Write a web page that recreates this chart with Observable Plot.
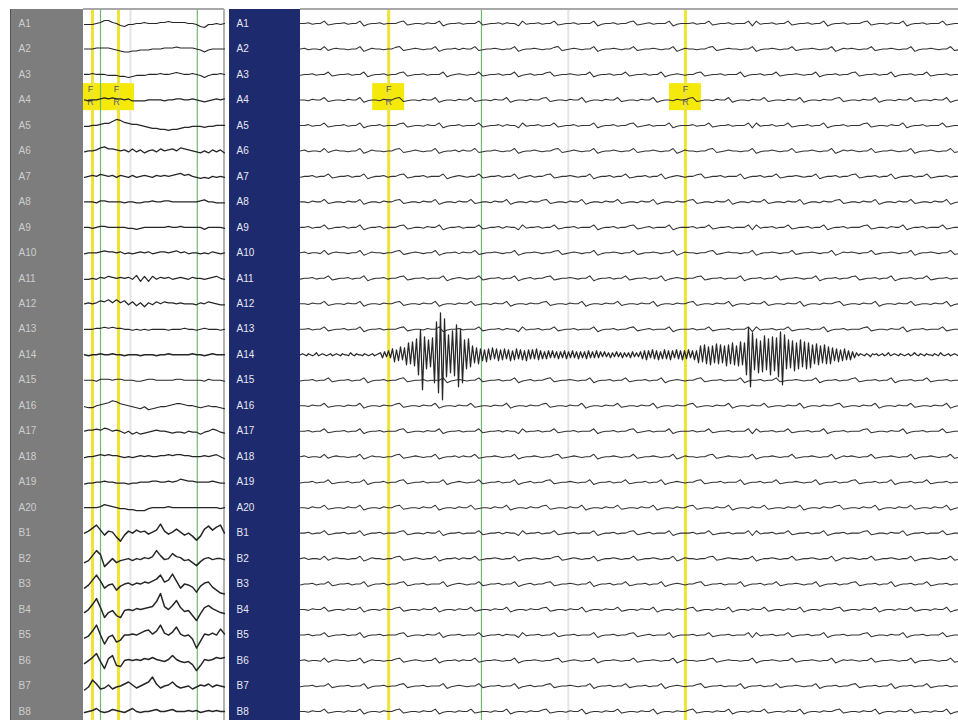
<!DOCTYPE html>
<html><head><meta charset="utf-8">
<script src="https://cdn.jsdelivr.net/npm/d3@7"></script>
<script src="https://cdn.jsdelivr.net/npm/@observablehq/plot@0.6"></script>
<style>
body{margin:0;background:#fff;}
#wrap{position:relative;width:958px;height:720px;overflow:hidden;background:#fff;font-family:"Liberation Sans",Arial,sans-serif;}
.abs{position:absolute;}
</style></head><body>
<div id="wrap">
 <div class="abs" style="left:10px;top:9px;width:1px;height:711px;background:#555"></div>
 <div class="abs" style="left:11px;top:9px;width:72px;height:711px;background:#7d7d7d"></div>
 <div class="abs" style="left:83px;top:8px;width:141px;height:2px;background:#a8a8a8"></div>
 <div class="abs" style="left:223px;top:9px;width:2px;height:711px;background:#b4b4b4"></div>
 <div class="abs" style="left:229px;top:9px;width:71px;height:711px;background:#1e2a6e"></div>
 <div class="abs" style="left:300px;top:8px;width:658px;height:2px;background:#a8a8a8"></div>
 <div id="left" class="abs" style="left:11px;top:0"></div>
 <div id="right" class="abs" style="left:229px;top:0"></div>
</div>
<script>
// channel labels
const channels = ["A1","A2","A3","A4","A5","A6","A7","A8","A9","A10","A11","A12","A13","A14","A15","A16","A17","A18","A19","A20","B1","B2","B3","B4","B5","B6","B7","B8"];

// left (compressed) panel: 36 samples per channel, offsets (px-like units, up positive)
const L_A1 = [-1,-1,-1,0,1,3,3,1,0,-2,-3,-1,-1,0,0,1,0,0,0,1,1,2,1,1,1,1,0,0,-1,-3,-4,-1,-1,0,-1,0];
const L_A2 = [0,0,0,1,1,1,1,0,-1,-2,-3,-3,-2,-2,-1,-1,-1,0,0,0,1,1,1,2,1,1,1,1,0,-1,-3,-1,0,0,0,0];
const L_A3 = [0,0,1,0,0,0,-1,-1,-1,-2,-2,-3,-2,-1,-1,-1,0,0,0,1,0,0,1,2,1,0,0,1,0,-1,-3,-1,0,0,1,0];
const L_A4 = [0,-1,0,0,1,2,1,2,1,1,0,1,-1,-1,-1,-1,0,0,0,0,-1,0,0,1,1,0,0,1,0,-1,-2,-1,0,1,0,1];
const L_A5 = [-1,-1,0,0,1,2,2,4,6,5,3,2,1,1,0,-1,-2,-3,-3,-4,-4,-5,-4,-4,-3,-2,-2,-1,-1,-1,-2,-1,-1,0,0,0];
const L_A6 = [-1,0,0,1,3,4,2,2,1,0,1,-1,2,-1,1,-2,0,1,-1,2,0,1,2,0,3,2,1,0,-1,-2,0,-2,1,-1,1,-2];
const L_A7 = [-1,0,1,0,2,1,0,1,-1,1,0,-1,1,-1,0,1,0,-1,1,0,1,0,1,2,3,1,2,0,-1,-2,-1,-2,0,-1,0,-1];
const L_A8 = [0,0,0,-1,1,1,0,0,0,0,-1,0,0,-1,-1,0,0,1,0,0,1,1,0,0,0,0,0,0,0,1,2,0,0,-1,-1,-1];
const L_A9 = [0,0,-1,0,1,1,0,0,0,0,0,-1,-1,-2,-1,0,0,0,0,0,0,1,0,0,1,0,0,0,0,0,-2,0,0,0,0,-1];
const L_A10 = [-1,0,0,0,1,2,1,1,0,1,-1,0,-1,0,1,0,1,-1,0,1,1,0,1,2,0,1,-1,0,0,-1,0,-1,1,0,-1,0];
const L_A11 = [-1,-1,0,-1,1,0,2,1,0,1,0,1,-1,3,-3,2,-3,2,-1,1,0,1,-1,0,1,0,-1,1,0,0,-1,0,1,2,0,-1];
const L_A12 = [0,1,0,1,3,2,4,1,4,1,3,-1,2,-2,1,-3,1,-1,2,0,2,1,1,0,1,0,0,0,-1,1,0,2,1,0,-1,-1];
const L_A13 = [0,0,0,1,1,2,1,2,1,1,0,0,-1,0,-1,0,-1,0,0,0,0,-1,0,0,0,1,0,0,-1,0,1,0,0,0,-1,0];
const L_A14 = [0,-1,0,0,1,0,0,1,0,0,-1,0,0,0,-1,0,0,0,-1,0,0,1,0,0,0,0,0,1,0,0,-1,0,1,0,0,0];
const L_A15 = [0,0,0,-1,1,1,1,0,1,1,0,0,0,-1,-1,0,1,1,0,0,0,0,0,1,1,0,0,0,0,0,-1,1,0,0,0,-1];
const L_A16 = [-1,-2,-2,0,1,2,3,5,4,2,1,0,-1,-2,-3,-1,-4,-3,-2,-1,-1,0,1,2,2,1,0,0,-1,-2,-1,0,-1,-1,-2,-3];
const L_A17 = [0,1,1,2,1,3,2,0,1,0,-2,0,-3,-1,-3,-2,-1,0,1,0,0,-1,-2,-1,-1,-2,0,-1,-1,-3,-1,0,2,1,-1,-2];
const L_A18 = [-1,0,0,1,2,1,2,1,1,0,-1,0,-1,0,1,0,1,0,0,1,1,2,1,2,2,1,1,0,0,0,1,0,1,2,0,-2];
const L_A19 = [-2,-1,-1,0,0,1,0,0,-1,-1,-1,-2,-1,-1,0,0,0,1,1,0,0,1,0,1,3,2,1,1,0,0,0,0,1,0,-1,-1];
const L_A20 = [0,0,0,0,1,3,2,1,0,-1,-1,-2,-2,-3,-3,-3,-1,0,0,0,0,1,0,0,0,0,0,0,0,0,0,0,0,0,-1,0];
const L_B1 = [0,2,5,8,3,-2,2,1,-4,-8,-2,2,0,3,1,2,-1,1,3,9,2,-1,1,4,1,-2,0,-3,-7,-3,4,7,3,6,8,0];
const L_B2 = [-4,-2,3,8,4,-8,-4,0,-4,-2,-1,0,-2,0,-1,1,0,2,8,3,-1,0,5,2,1,-2,-1,-4,-7,-3,0,1,-1,0,0,-1];
const L_B3 = [-4,-1,4,9,3,-4,-1,0,-6,-2,0,1,-1,1,0,2,1,3,5,9,2,4,10,3,-4,0,-1,-3,-8,-2,1,2,-3,-6,-9,-10];
const L_B4 = [-3,0,5,11,2,-8,-3,-1,-6,-8,-1,0,-1,1,0,1,2,3,8,16,3,0,4,9,2,-2,-1,-6,-11,-4,2,4,1,-1,-3,-4];
const L_B5 = [-3,-1,4,10,0,-9,-2,0,-7,-5,0,0,1,0,2,4,5,1,4,10,2,0,3,8,1,-1,0,-4,-13,-6,1,0,2,0,6,1];
const L_B6 = [-3,0,3,7,-1,-8,2,5,-5,-6,0,1,0,1,0,2,1,3,1,0,-1,1,5,1,-1,-2,-1,-4,-10,-5,1,0,1,3,2,3];
const L_B7 = [-4,-1,6,2,-3,-2,1,-3,-1,0,2,4,1,-2,0,2,4,9,2,-2,0,1,4,0,-2,-1,0,-3,-1,1,0,2,-1,1,0,-1];
const L_B8 = [-1,0,1,3,0,-1,0,2,1,0,-1,1,3,0,-1,0,0,1,2,0,0,1,2,0,0,0,1,0,1,-1,0,1,0,1,0,0];

// left panel event markers (seconds)
const leftYellow = [0.1, 0.425];
const leftGreen = [0.2, 1.41];
const leftGray = [0.575];

// right (expanded) panel background activity, digit d -> (d-4)*0.8
const N1 = "44534472344534471344534446723443544713445344472344535441734453447234453444713445344672345344471344453447234453444717344534472344534471344534446723443544713445344472344";
const N2 = "45344372454434471354434467234543447134453544723445434471344543446723454344713445434472344543447135443446723454434471344543447234454344713545434472344543447134454344723";
const N3 = "34453447234453447134453446723445344471345434472344534471345344672344543447134453447234453447134543446723445344471344534472344543447134453446723445344713445344723445344";
const N4 = "44354472344354471344354467234435447134435447234435447134435446723443544713443544723443544713443544672344354471344354472344354471344354467234435447134435447234435447134";

// right panel A14: bursts of fast activity (px-like units, 330 samples)
const R_A14 = [0,1,0,-1,1,0,-1,0,2,-1,0,1,0,-1,0,1,-1,0,1,0,-1,1,0,0,-1,2,0,-1,1,0,0,-1,1,0,-1,0,1,-1,0,1,
 2,-3,3,-2,4,-3,
 6,-7,5,-6,8,-5,7,
 -10,12,-9,13,-11,
 16,-20,25,-35,18,
 -14,15,-12,17,
 -28,33,-38,42,-45,36,
 -22,20,-18,24,-21,
 30,-32,26,-28,
 15,-14,16,-12,
 9,-8,7,-9,6,
 -6,5,-7,6,-5,7,-4,6,-6,5,-5,6,-4,5,-6,4,-5,6,-4,5,-5,4,-6,5,-4,5,-4,6,-5,4,
 -4,3,-4,4,-3,4,-3,3,-4,3,-3,4,-4,3,-3,4,-3,3,-4,3,-3,3,-4,4,-3,3,-3,4,-3,3,
 -2,3,-2,2,-3,2,-2,3,-2,2,-3,2,-2,2,-3,3,-2,2,-2,3,
 -4,4,-5,4,-3,5,-4,4,-5,3,-4,5,-4,4,-5,4,-3,5,-4,4,-5,4,-4,5,-3,4,-5,4,
 -8,9,-7,10,-9,8,-10,9,-8,11,-9,10,-8,9,-11,10,-9,12,-10,9,-11,13,-10,12,
 -20,27,-32,22,
 -15,16,-18,14,-17,19,-15,16,-20,18,-16,17,
 -22,23,-30,20,
 -14,15,-13,14,-16,12,-14,15,-12,13,-14,12,-13,
 10,-9,11,-10,9,-8,10,-9,8,-9,
 7,-6,6,-7,5,-6,6,-5,4,-5,3,-3,
 2,-1,1,0,-1,1,0,-2,1,0,1,-1,0,1,-1,0,2,-1,0,1,0,-1,1,0,-1,0,1,-1,0,2,0,-1,1,0,-1,1,0,0,-1,1,0,-1,2,0,-1,0,1,-1,0,1,0,-1];

// right panel event markers (seconds)
const rightYellow = [1.34, 5.85];
const rightGreen = [2.75];
const rightGray = [4.07];

// ---------- build ----------
const leftSignals = [L_A1,L_A2,L_A3,L_A4,L_A5,L_A6,L_A7,L_A8,L_A9,L_A10,L_A11,L_A12,L_A13,L_A14,L_A15,L_A16,L_A17,L_A18,L_A19,L_A20,L_B1,L_B2,L_B3,L_B4,L_B5,L_B6,L_B7,L_B8];
const noise = [N1,N2,N3,N4].map(s => Array.from(s, ch => (+ch - 4) * 0.8));
const rightSignals = channels.map((n, c) => n === "A14" ? R_A14 : noise[c % 4]);

const gain = 1 / 25.48;
const yScale = {domain: [27.353, -0.51], range: [720, 10], axis: null};
const markerCh = channels.indexOf("A4");

const leftDt = 0.05;
const leftRows = channels.flatMap((name, c) => leftSignals[c].map((v, i) => ({name, t: i * leftDt, y: c - v * gain})));
const rightT = 10;
const rightRows = channels.flatMap((name, c) => {
  const s = rightSignals[c];
  return s.map((v, i) => ({name, t: i * rightT / (s.length - 1), y: c - v * gain}));
});

const baseStyle = {background: "transparent", fontFamily: "'Liberation Sans', Arial, sans-serif", overflow: "visible"};

function panel({width, marginLeft, xDomain, rows, yellow, green, gray, boxHalf, labelDx, labelFill, aWidth, bWidth, stroke, fDx}) {
  return Plot.plot({
    width, height: 720, marginLeft, marginRight: 0, marginTop: 10, marginBottom: 0,
    style: baseStyle,
    x: {domain: xDomain, axis: null},
    y: yScale,
    marks: [
      Plot.ruleX(gray, {stroke: "#e4e4e4", strokeWidth: 2}),
      Plot.rect(yellow, {x1: d => d - boxHalf, x2: d => d + boxHalf, y1: markerCh - 0.64, y2: markerCh + 0.42, fill: "#f5e90a", clip: true}),
      Plot.ruleX(yellow, {stroke: "#efe436", strokeWidth: 3}),
      Plot.ruleX(green, {stroke: "#72b872", strokeWidth: 1.2}),
      Plot.text(yellow, {x: d => d, y: markerCh - 0.42, text: () => "F", fill: "#555", fontSize: 9, dx: fDx}),
      Plot.text(yellow, {x: d => d, y: markerCh + 0.08, text: () => "R", fill: "#666", fontSize: 9, dx: fDx}),
      Plot.line(rows.filter(d => d.name[0] === "A" && d.name !== "A14"), {x: "t", y: "y", z: "name", stroke, strokeWidth: aWidth, clip: true}),
      Plot.line(rows.filter(d => d.name === "A14"), {x: "t", y: "y", z: "name", stroke: "#262626", strokeWidth: aWidth + 0.2, clip: true}),
      Plot.line(rows.filter(d => d.name[0] === "B"), {x: "t", y: "y", z: "name", stroke, strokeWidth: bWidth, clip: true}),
      Plot.text(channels, {y: (d, i) => i, text: d => d, frameAnchor: "left", dx: labelDx, textAnchor: "start", fill: labelFill, fontSize: 10})
    ]
  });
}

document.getElementById("left").appendChild(panel({
  width: 214, marginLeft: 72, xDomain: [-0.0125, 1.7625], rows: leftRows,
  yellow: leftYellow, green: leftGreen, gray: leftGray, boxHalf: 0.2,
  labelDx: -65, labelFill: "#cdcdcd", aWidth: 1.2, bWidth: 1.5, stroke: "#262626", fDx: -2
}));
document.getElementById("right").appendChild(panel({
  width: 729, marginLeft: 71, xDomain: [0, 10], rows: rightRows,
  yellow: rightYellow, green: rightGreen, gray: rightGray, boxHalf: 0.243,
  labelDx: -64, labelFill: "#e4e7f4", aWidth: 1.05, bWidth: 1.05, stroke: "#333", fDx: 0
}));
</script>
</body></html>
